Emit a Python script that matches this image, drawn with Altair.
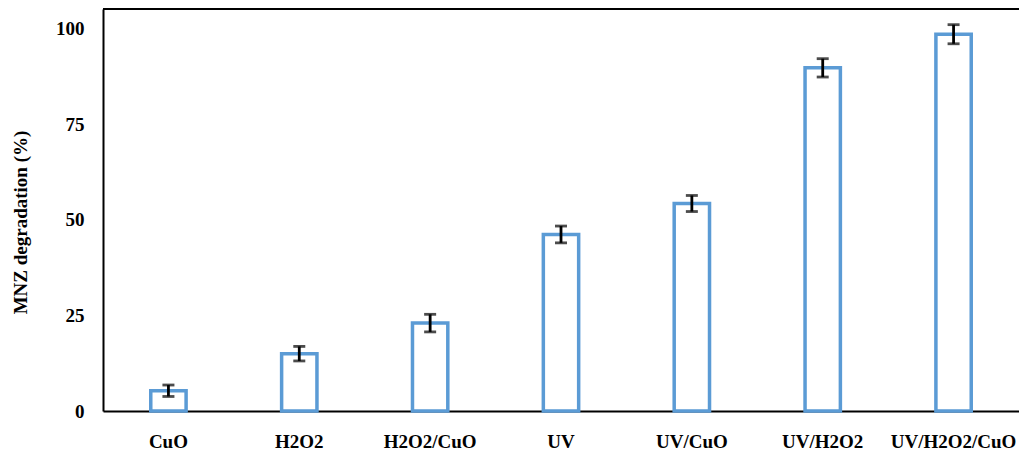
import altair as alt
import pandas as pd

categories = ["CuO", "H2O2", "H2O2/CuO", "UV", "UV/CuO", "UV/H2O2", "UV/H2O2/CuO"]
values = [5.3, 15.0, 23.0, 46.2, 54.3, 89.8, 98.6]
errors = [1.5, 1.9, 2.3, 2.2, 2.1, 2.4, 2.5]
y_ticks = [0, 25, 50, 75, 100]

df = pd.DataFrame({"cat": categories, "val": values, "err": errors})
df["lo"] = df["val"] - df["err"]
df["hi"] = df["val"] + df["err"]

W, H = 916, 402
FONT = "Liberation Serif"
FS = 19

x_enc = alt.X("cat:N", sort=categories, title=None,
              scale=alt.Scale(paddingInner=0.73, paddingOuter=0.365),
              axis=alt.Axis(labelAngle=0, labelFont=FONT, labelFontSize=FS, labelFontWeight="bold",
                            labelColor="black", ticks=False, labelPadding=21,
                            domainColor="black", domainWidth=2))
y_scale = alt.Scale(domain=[0, 105.2], nice=False)

base = alt.Chart(df)

bars = base.mark_bar(fill="white", stroke="#5B9BD5", strokeWidth=3.5).encode(
    x=x_enc,
    y=alt.Y("val:Q", scale=y_scale, title="MNZ degradation (%)",
            axis=alt.Axis(values=y_ticks, grid=False, ticks=False, labelPadding=19,
                          labelFont=FONT, labelFontSize=FS, labelFontWeight="bold", labelColor="black",
                          titleFont=FONT, titleFontSize=FS, titleFontWeight="bold", titleColor="black",
                          titlePadding=25, titleY=213, domainColor="black", domainWidth=2)),
)

rules = base.mark_rule(color="black", strokeWidth=2.8).encode(
    x=alt.X("cat:N", sort=categories),
    y=alt.Y("lo:Q", scale=y_scale),
    y2="hi:Q",
)
caps_hi = base.mark_tick(color="black", thickness=2.8, size=12, orient="horizontal").encode(
    x=alt.X("cat:N", sort=categories),
    y=alt.Y("hi:Q", scale=y_scale),
)
caps_lo = base.mark_tick(color="black", thickness=2.8, size=12, orient="horizontal").encode(
    x=alt.X("cat:N", sort=categories),
    y=alt.Y("lo:Q", scale=y_scale),
)

frame_top = alt.Chart(pd.DataFrame({"a": [0]})).mark_rule(color="black", strokeWidth=2).encode(
    x=alt.value(0), x2=alt.value(W), y=alt.value(0)
)

chart = alt.layer(bars, rules, caps_hi, caps_lo, frame_top).properties(
    width=W, height=H,
    autosize=alt.AutoSizeParams(type="none"),
    padding={"left": 103, "top": 9, "right": 0, "bottom": 42},
    background="white",
).configure_view(stroke=None)

chart.save("out.html", embed_options={"renderer": "svg", "actions": False})
